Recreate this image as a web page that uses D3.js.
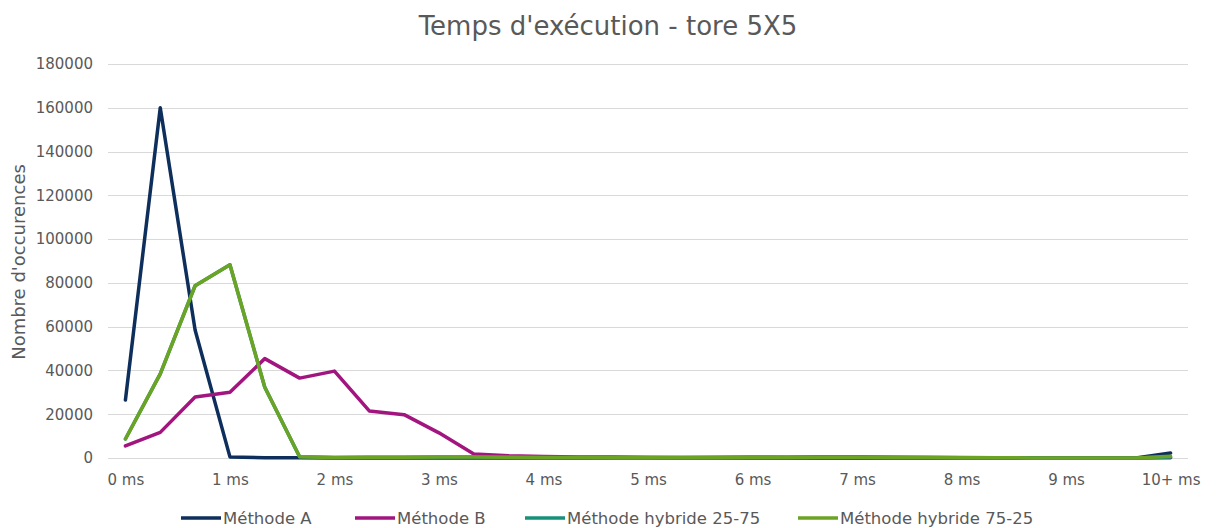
<!DOCTYPE html>
<html>
<head>
<meta charset="utf-8">
<script src="https://cdn.jsdelivr.net/npm/d3@7"></script>
<style>
  html, body { margin: 0; padding: 0; background: #ffffff; }
  svg { display: block; font-family: "DejaVu Sans", "Lato", sans-serif; }
</style>
</head>
<body>
<script>
// ---- data ----
const tickLabels = ["0 ms", "1 ms", "2 ms", "3 ms", "4 ms", "5 ms", "6 ms", "7 ms", "8 ms", "9 ms", "10+ ms"];
// 31 categories: three per millisecond, the last one is "10+ ms"
const categories = d3.range(31);
const methodeA = [26500, 160000, 58500, 500, 150, 100, 50, 30, 20, 10, 10, 10, 5, 5, 5, 5, 5, 5, 5, 5, 5, 5, 5, 5, 5, 5, 5, 5, 5, 5, 2300];
const methodeB = [5500, 11700, 27900, 30000, 45400, 36500, 39700, 21500, 19800, 11500, 1800, 1000, 700, 500, 400, 300, 250, 200, 200, 150, 150, 100, 100, 100, 80, 60, 50, 40, 30, 20, 100];
const hybride2575 = [8700, 38400, 78700, 88300, 32300, 600, 200, 300, 300, 400, 400, 300, 200, 200, 150, 150, 200, 300, 400, 500, 600, 600, 500, 350, 200, 100, 50, 30, 20, 20, 400];
const hybride7525 = [8700, 38400, 78700, 88300, 32300, 600, 200, 300, 300, 400, 400, 300, 200, 200, 150, 150, 150, 150, 200, 250, 300, 300, 250, 200, 150, 100, 50, 30, 20, 20, 800];
const yTicks = [0, 20000, 40000, 60000, 80000, 100000, 120000, 140000, 160000, 180000];
const seriesNames = ["Méthode A", "Méthode B", "Méthode hybride 25-75", "Méthode hybride 75-25"];
const seriesColors = ["#0E2F5C", "#A2157F", "#17917A", "#6BA324"];
const seriesValues = [methodeA, methodeB, hybride2575, hybride7525];

// ---- layout ----
const W = 1216, H = 528;
const plot = { left: 108, right: 1188, top: 64, bottom: 458 };
const textColor = "#595959";

const svg = d3.select("body").append("svg").attr("width", W).attr("height", H);

const x = d3.scalePoint().domain(categories).range([plot.left, plot.right]).padding(0.5);
const y = d3.scaleLinear().domain([0, 180000]).range([plot.bottom, plot.top]);

// title
svg.append("text")
  .attr("x", 608).attr("y", 35)
  .attr("text-anchor", "middle")
  .attr("fill", textColor)
  .style("font-size", "26px")
  .text("Temps d'exécution - tore 5X5");

// gridlines
svg.append("g")
  .selectAll("line")
  .data(yTicks)
  .join("line")
  .attr("x1", plot.left).attr("x2", plot.right)
  .attr("y1", d => Math.round(y(d)) + 0.5).attr("y2", d => Math.round(y(d)) + 0.5)
  .attr("stroke", "#D9D9D9").attr("stroke-width", 1);

// y axis
const yAxis = d3.axisLeft(y).tickValues(yTicks).tickSize(0).tickPadding(15).tickFormat(d3.format("d"));
const gy = svg.append("g").attr("transform", `translate(${plot.left},0)`).call(yAxis);
gy.select(".domain").remove();
gy.selectAll("text").attr("fill", textColor).style("font-size", "15px").style("font-family", "'DejaVu Sans', sans-serif");

// x axis
const xAxis = d3.axisBottom(x)
  .tickValues(categories.filter(c => c % 3 === 0))
  .tickSize(0).tickPadding(16)
  .tickFormat(c => tickLabels[c / 3]);
const gx = svg.append("g").attr("transform", `translate(0,${plot.bottom})`).call(xAxis);
gx.select(".domain").remove();
gx.selectAll("text").attr("fill", textColor).style("font-size", "15px").style("font-family", "'DejaVu Sans', sans-serif");

// y axis title
svg.append("text")
  .attr("transform", `translate(25,${(plot.top + plot.bottom) / 2 + 1}) rotate(-90)`)
  .attr("text-anchor", "middle")
  .attr("fill", textColor)
  .style("font-size", "18px")
  .text("Nombre d'occurences");

// lines
const line = d3.line().x((d, i) => x(categories[i])).y(d => y(d));
svg.append("g")
  .selectAll("path")
  .data(seriesValues)
  .join("path")
  .attr("d", d => line(d))
  .attr("fill", "none")
  .attr("stroke", (d, i) => seriesColors[i])
  .attr("stroke-width", 3.5)
  .attr("stroke-linejoin", "round")
  .attr("stroke-linecap", "round");

// legend
const legendX = [181, 355, 525, 798];
const lg = svg.append("g");
const items = lg.selectAll("g").data(seriesNames).join("g")
  .attr("transform", (d, i) => `translate(${legendX[i]},518)`);
items.append("line")
  .attr("x1", 0).attr("x2", 40).attr("y1", 0).attr("y2", 0)
  .attr("stroke", (d, i) => seriesColors[i]).attr("stroke-width", 3.5);
items.append("text")
  .attr("x", 42).attr("y", 5.5)
  .attr("fill", textColor)
  .style("font-size", "16.5px")
  .text(d => d);
</script>
</body>
</html>
